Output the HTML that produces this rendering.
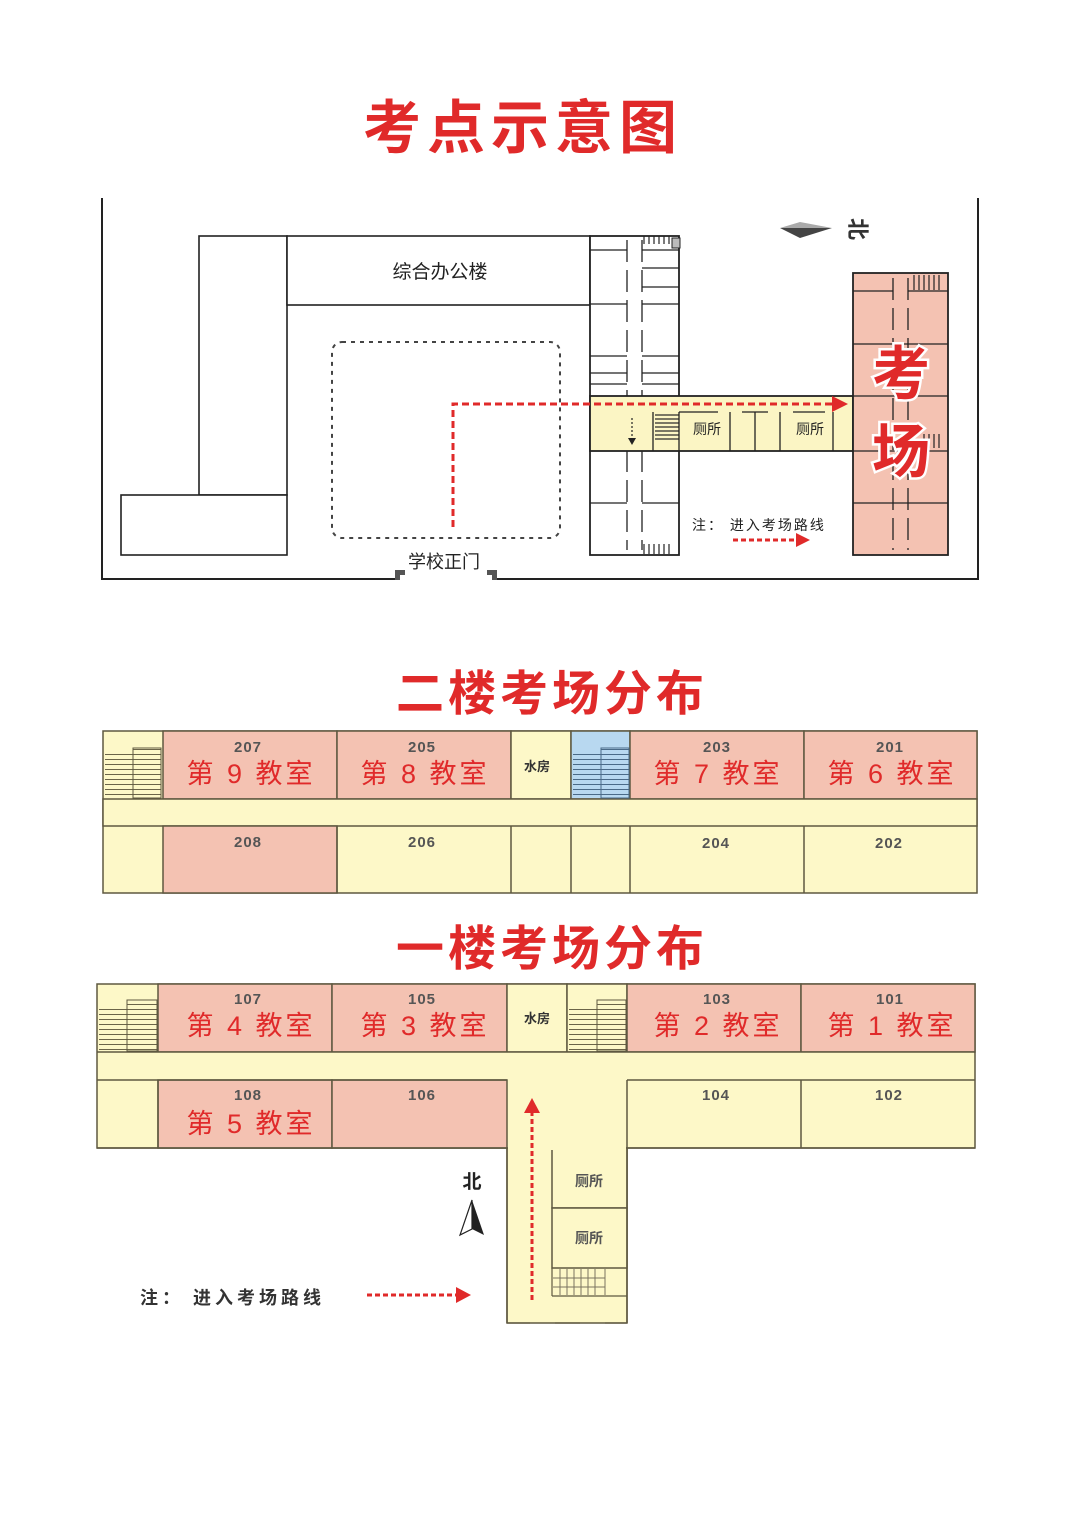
<!DOCTYPE html>
<html><head><meta charset="utf-8"><style>
html,body{margin:0;padding:0;background:#fff;}
svg{display:block;}
text{font-family:"Liberation Sans","Noto Sans CJK SC",sans-serif;}
</style></head><body>
<svg width="1080" height="1527" viewBox="0 0 1080 1527" xmlns="http://www.w3.org/2000/svg">
<defs>
<pattern id="st" width="8" height="5" patternUnits="userSpaceOnUse"><rect width="8" height="5" fill="none"/><line x1="0" y1="4.5" x2="8" y2="4.5" stroke="#6b6448" stroke-width="1"/></pattern>
<pattern id="stb" width="8" height="5" patternUnits="userSpaceOnUse"><line x1="0" y1="4.5" x2="8" y2="4.5" stroke="#4a6a88" stroke-width="1"/></pattern>
<pattern id="vs" width="5" height="10" patternUnits="userSpaceOnUse"><line x1="4" y1="0" x2="4" y2="10" stroke="#222" stroke-width="1.2"/></pattern>
<pattern id="hs" width="10" height="4" patternUnits="userSpaceOnUse"><line x1="0" y1="3" x2="10" y2="3" stroke="#222" stroke-width="1.2"/></pattern>
</defs>

<text x="523" y="148" text-anchor="middle" font-size="58" font-weight="bold" fill="#e02a2a" letter-spacing="6">考点示意图</text>

<g fill="none" stroke="#222" stroke-width="2">
<polyline points="102,198 102,579 978,579 978,198"/>
</g>
<rect x="395" y="570" width="10" height="10" fill="#555"/>
<rect x="487" y="570" width="10" height="10" fill="#555"/>
<rect x="400" y="575" width="92" height="8" fill="#fff"/>
<text x="444" y="568" text-anchor="middle" font-size="18" fill="#222">学校正门</text>

<g fill="#fff" stroke="#222" stroke-width="1.6">
<rect x="199" y="236" width="88" height="259"/>
<rect x="287" y="236" width="303" height="69"/>
<rect x="121" y="495" width="166" height="60"/>
</g>
<text x="440" y="278" text-anchor="middle" font-size="19" fill="#222">综合办公楼</text>
<rect x="332" y="342" width="228" height="196" rx="10" fill="none" stroke="#444" stroke-width="2" stroke-dasharray="4,5"/>

<rect x="590" y="236" width="89" height="319" fill="#fff" stroke="#222" stroke-width="1.8"/>
<g stroke="#222" stroke-width="1.3" fill="none">
<line x1="627" y1="240" x2="627" y2="550" stroke-dasharray="22,8"/>
<line x1="642" y1="240" x2="642" y2="550" stroke-dasharray="22,8"/>
<line x1="590" y1="250" x2="627" y2="250"/><line x1="642" y1="250" x2="679" y2="250"/>
<line x1="590" y1="304" x2="627" y2="304"/><line x1="642" y1="268" x2="679" y2="268"/>
<line x1="642" y1="287" x2="679" y2="287"/><line x1="642" y1="304" x2="679" y2="304"/>
<line x1="590" y1="356" x2="627" y2="356"/><line x1="642" y1="356" x2="679" y2="356"/>
<line x1="590" y1="373" x2="627" y2="373"/><line x1="642" y1="373" x2="679" y2="373"/>
<line x1="590" y1="384" x2="627" y2="384"/><line x1="642" y1="384" x2="679" y2="384"/>
<line x1="590" y1="503" x2="627" y2="503"/><line x1="642" y1="503" x2="679" y2="503"/>
</g>
<rect x="643" y="236" width="30" height="8" fill="url(#vs)"/>
<rect x="643" y="544" width="30" height="10" fill="url(#vs)"/>
<rect x="672" y="238" width="8" height="10" fill="#bbb" stroke="#222"/>

<rect x="590" y="396" width="263" height="55" fill="#fbf5c4" stroke="#222" stroke-width="1.8"/>
<g stroke="#222" stroke-width="1.3">
<line x1="653" y1="412" x2="653" y2="451"/>
<line x1="679" y1="412" x2="679" y2="451"/>
<line x1="730" y1="412" x2="730" y2="451"/>
<line x1="755" y1="412" x2="755" y2="451"/>
<line x1="780" y1="412" x2="780" y2="451"/>
<line x1="833" y1="412" x2="833" y2="451"/>
<line x1="679" y1="412" x2="718" y2="412"/>
<line x1="742" y1="412" x2="768" y2="412"/>
<line x1="793" y1="412" x2="825" y2="412"/>
</g>
<rect x="655" y="414" width="24" height="26" fill="url(#hs)"/>
<text x="707" y="434" text-anchor="middle" font-size="14" fill="#222">厕所</text>
<text x="810" y="434" text-anchor="middle" font-size="14" fill="#222">厕所</text>
<line x1="632" y1="418" x2="632" y2="440" stroke="#222" stroke-width="1.2" stroke-dasharray="2,2"/>
<polygon points="628,438 636,438 632,445" fill="#222"/>

<rect x="853" y="273" width="95" height="282" fill="#f4c2b2" stroke="#222" stroke-width="1.8"/>
<g stroke="#222" stroke-width="1.3">
<line x1="893" y1="278" x2="893" y2="550" stroke-dasharray="22,8"/>
<line x1="908" y1="278" x2="908" y2="550" stroke-dasharray="22,8"/>
<line x1="853" y1="291" x2="893" y2="291"/><line x1="908" y1="291" x2="948" y2="291"/>
<line x1="853" y1="344" x2="948" y2="344"/>
<line x1="853" y1="396" x2="948" y2="396"/>
<line x1="853" y1="451" x2="948" y2="451"/>
<line x1="853" y1="503" x2="948" y2="503"/>
</g>
<rect x="912" y="275" width="28" height="15" fill="url(#vs)"/>
<rect x="923" y="434" width="18" height="14" fill="url(#vs)"/>
<g font-size="58" font-weight="bold" text-anchor="middle" stroke="#fff" stroke-width="5" paint-order="stroke" fill="#e02a2a">
<text x="901" y="394">考</text>
<text x="901" y="472">场</text>
</g>

<polyline points="453,527 453,404 836,404" fill="none" stroke="#e02a2a" stroke-width="3" stroke-dasharray="7,4"/>
<polygon points="832,396 848,404 832,412" fill="#e02a2a"/>
<text x="692" y="530" font-size="14" fill="#222" letter-spacing="2">注： 进入考场路线</text>
<line x1="733" y1="540" x2="798" y2="540" stroke="#e02a2a" stroke-width="3" stroke-dasharray="5,3"/>
<polygon points="796,533 810,540 796,547" fill="#e02a2a"/>

<polygon points="780,228 832,228 800,222" fill="#aaa"/>
<polygon points="780,228 832,228 800,238" fill="#444"/>
<text x="858" y="229" text-anchor="middle" font-size="22" font-weight="bold" fill="#333" transform="rotate(90 858 229)" dy="8">北</text>

<text x="552" y="710" text-anchor="middle" font-size="48" font-weight="bold" fill="#e02a2a" letter-spacing="4">二楼考场分布</text>
<g stroke="#5e5840" stroke-width="1.5">
<rect x="103" y="731" width="874" height="162" fill="#fdf8c8"/>
<rect x="163" y="731" width="174" height="68" fill="#f4c2b2"/>
<rect x="337" y="731" width="174" height="68" fill="#f4c2b2"/>
<rect x="511" y="731" width="60" height="68" fill="#fdf8c8"/>
<rect x="571" y="731" width="59" height="68" fill="#b8d8f0"/>
<rect x="630" y="731" width="174" height="68" fill="#f4c2b2"/>
<rect x="804" y="731" width="173" height="68" fill="#f4c2b2"/>
<rect x="103" y="799" width="874" height="27" fill="#fdf8c8"/>
<rect x="163" y="826" width="174" height="67" fill="#f4c2b2"/>
<line x1="337" y1="826" x2="337" y2="893"/>
<line x1="511" y1="826" x2="511" y2="893"/>
<line x1="571" y1="826" x2="571" y2="893"/>
<line x1="630" y1="826" x2="630" y2="893"/>
<line x1="804" y1="826" x2="804" y2="893"/>
</g>
<rect x="105" y="753" width="28" height="45" fill="url(#st)"/>
<rect x="133" y="748" width="28" height="50" fill="url(#st)" stroke="#5e5840" stroke-width="1"/>
<rect x="573" y="753" width="28" height="45" fill="url(#stb)"/>
<rect x="601" y="748" width="28" height="50" fill="url(#stb)" stroke="#4a6a88" stroke-width="1"/>
<g font-size="15" fill="#555" text-anchor="middle" font-weight="bold" letter-spacing="1">
<text x="248" y="752">207</text><text x="422" y="752">205</text><text x="717" y="752">203</text><text x="890" y="752">201</text>
<text x="248" y="847">208</text><text x="422" y="847">206</text><text x="716" y="848">204</text><text x="889" y="848">202</text>
</g>
<g font-size="27" fill="#e02a2a" text-anchor="middle" letter-spacing="3">
<text x="251" y="783">第 9 教室</text><text x="425" y="783">第 8 教室</text><text x="718" y="783">第 7 教室</text><text x="892" y="783">第 6 教室</text>
</g>
<text x="537" y="771" text-anchor="middle" font-size="13" fill="#333" font-weight="bold">水房</text>

<text x="552" y="965" text-anchor="middle" font-size="48" font-weight="bold" fill="#e02a2a" letter-spacing="4">一楼考场分布</text>
<g stroke="#5e5840" stroke-width="1.5">
<rect x="507" y="1080" width="120" height="243" fill="#fdf8c8"/>
<rect x="97" y="984" width="878" height="164" fill="#fdf8c8"/>
<rect x="158" y="984" width="174" height="68" fill="#f4c2b2"/>
<rect x="332" y="984" width="175" height="68" fill="#f4c2b2"/>
<rect x="507" y="984" width="60" height="68" fill="#fdf8c8"/>
<rect x="567" y="984" width="60" height="68" fill="#fdf8c8"/>
<rect x="627" y="984" width="174" height="68" fill="#f4c2b2"/>
<rect x="801" y="984" width="174" height="68" fill="#f4c2b2"/>
<rect x="158" y="1080" width="174" height="68" fill="#f4c2b2"/>
<rect x="332" y="1080" width="175" height="68" fill="#f4c2b2"/>
<line x1="627" y1="1080" x2="627" y2="1148"/>
<line x1="801" y1="1080" x2="801" y2="1148"/>
<rect x="552" y="1148" width="75" height="60" fill="#fdf8c8"/>
<rect x="552" y="1208" width="75" height="60" fill="#fdf8c8"/>
</g>
<rect x="98" y="1052" width="876" height="27" fill="#fdf8c8"/>
<rect x="508" y="1078" width="118" height="72" fill="#fdf8c8"/>
<line x1="97" y1="1052" x2="975" y2="1052" stroke="#5e5840" stroke-width="1.5"/>
<line x1="97" y1="1080" x2="507" y2="1080" stroke="#5e5840" stroke-width="1.5"/>
<line x1="627" y1="1080" x2="975" y2="1080" stroke="#5e5840" stroke-width="1.5"/>
<line x1="507" y1="1148" x2="507" y2="1323" stroke="#5e5840" stroke-width="1.5"/>
<line x1="627" y1="1148" x2="627" y2="1323" stroke="#5e5840" stroke-width="1.5"/>
<rect x="98" y="1081" width="59" height="66" fill="#fdf8c8"/>
<line x1="158" y1="1080" x2="158" y2="1148" stroke="#5e5840" stroke-width="1.5"/>
<line x1="97" y1="1148" x2="507" y2="1148" stroke="#5e5840" stroke-width="1.5"/>
<line x1="627" y1="1148" x2="975" y2="1148" stroke="#5e5840" stroke-width="1.5"/>
<g stroke="#5e5840" stroke-width="1.2">
<line x1="507" y1="1323" x2="530" y2="1323"/><line x1="555" y1="1323" x2="580" y2="1323"/><line x1="605" y1="1323" x2="627" y2="1323"/>
<line x1="552" y1="1268" x2="552" y2="1296"/>
<line x1="552" y1="1296" x2="627" y2="1296"/>
</g>
<g stroke="#7a7460" stroke-width="1">
<line x1="553" y1="1278" x2="605" y2="1278"/><line x1="553" y1="1287" x2="605" y2="1287"/>
<line x1="560" y1="1269" x2="560" y2="1295"/><line x1="567" y1="1269" x2="567" y2="1295"/><line x1="574" y1="1269" x2="574" y2="1295"/>
<line x1="581" y1="1269" x2="581" y2="1295"/><line x1="588" y1="1269" x2="588" y2="1295"/><line x1="595" y1="1269" x2="595" y2="1295"/><line x1="605" y1="1269" x2="605" y2="1295"/>
</g>
<text x="589" y="1186" text-anchor="middle" font-size="14" fill="#555" font-weight="bold">厕所</text>
<text x="589" y="1243" text-anchor="middle" font-size="14" fill="#555" font-weight="bold">厕所</text>
<rect x="99" y="1005" width="28" height="46" fill="url(#st)"/>
<rect x="127" y="1000" width="30" height="51" fill="url(#st)" stroke="#5e5840" stroke-width="1"/>
<rect x="569" y="1005" width="28" height="46" fill="url(#st)"/>
<rect x="597" y="1000" width="29" height="51" fill="url(#st)" stroke="#5e5840" stroke-width="1"/>
<g font-size="15" fill="#555" text-anchor="middle" font-weight="bold" letter-spacing="1">
<text x="248" y="1004">107</text><text x="422" y="1004">105</text><text x="717" y="1004">103</text><text x="890" y="1004">101</text>
<text x="248" y="1100">108</text><text x="422" y="1100">106</text><text x="716" y="1100">104</text><text x="889" y="1100">102</text>
</g>
<g font-size="27" fill="#e02a2a" text-anchor="middle" letter-spacing="3">
<text x="251" y="1035">第 4 教室</text><text x="425" y="1035">第 3 教室</text><text x="718" y="1035">第 2 教室</text><text x="892" y="1035">第 1 教室</text>
<text x="251" y="1133">第 5 教室</text>
</g>
<text x="537" y="1023" text-anchor="middle" font-size="13" fill="#333" font-weight="bold">水房</text>

<line x1="532" y1="1300" x2="532" y2="1112" stroke="#e02a2a" stroke-width="3" stroke-dasharray="5,3"/>
<polygon points="524,1113 540,1113 532,1098" fill="#e02a2a"/>
<text x="472" y="1188" text-anchor="middle" font-size="19" font-weight="bold" fill="#222">北</text>
<polygon points="472,1200 460,1235 472,1229" fill="#fff" stroke="#222" stroke-width="1.2"/>
<polygon points="472,1200 484,1235 472,1229" fill="#222"/>
<text x="140" y="1304" font-size="18" fill="#333" font-weight="bold" letter-spacing="4">注： 进入考场路线</text>
<line x1="367" y1="1295" x2="458" y2="1295" stroke="#e02a2a" stroke-width="3" stroke-dasharray="5,3"/>
<polygon points="456,1287 471,1295 456,1303" fill="#e02a2a"/>
</svg>
</body></html>
